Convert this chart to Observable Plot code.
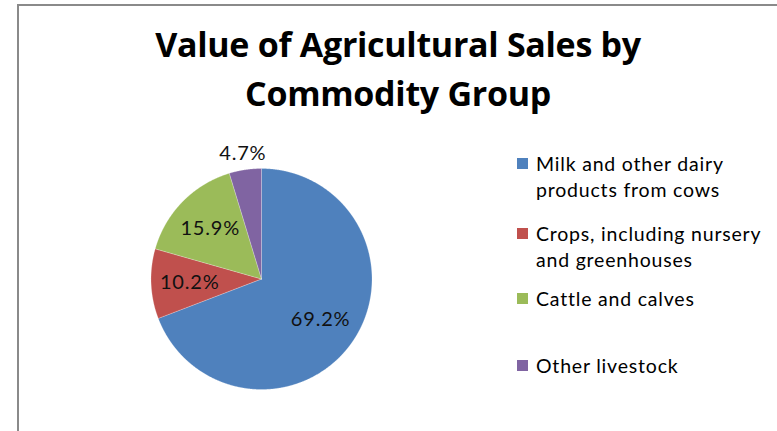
<!DOCTYPE html>
<html>
<head>
<meta charset="utf-8">
<script src="https://cdn.jsdelivr.net/npm/d3@7"></script>
<script src="https://cdn.jsdelivr.net/npm/@observablehq/plot@0.6"></script>
<style>
  html, body { margin: 0; padding: 0; background: #fff; }
  body { width: 777px; height: 431px; overflow: hidden; position: relative; font-family: Lato, "Open Sans", sans-serif; }
  #frame { position: absolute; left: 17px; top: 4px; width: 800px; height: 500px; border-left: 2px solid #8a8a8a; border-top: 2px solid #8a8a8a; pointer-events: none; z-index: 5; }
  #title { height: 140px; box-sizing: border-box; padding-top: 20px; padding-left: 19px; text-align: center; font-family: "Open Sans", sans-serif; font-weight: bold; font-size: 34px; line-height: 49px; color: #000; letter-spacing: -0.3px; }
  #legend { position: absolute; left: 517px; top: 150px; font-size: 19.5px; letter-spacing: 0.8px; color: #000; }
  .item { position: absolute; left: 0; white-space: nowrap; }
  .sw { position: absolute; left: 0; width: 11px; height: 11px; }
  .txt { position: absolute; left: 19px; line-height: 26px; }
  #chart svg { display: block; background: transparent; }
</style>
</head>
<body>
<div id="frame"></div>
<div id="title">Value of Agricultural Sales by<br>Commodity Group</div>
<div id="chart"></div>
<div id="legend"></div>
<script>
const categories = ["Milk and other dairy products from cows", "Crops, including nursery and greenhouses", "Cattle and calves", "Other livestock"];
const shares = [69.2, 10.2, 15.9, 4.7];
const pctLabels = ["69.2%", "10.2%", "15.9%", "4.7%"];
const legendLines = [["Milk and other dairy", "products from cows"], ["Crops, including nursery", "and greenhouses"], ["Cattle and calves"], ["Other livestock"]];
const colors = ["#4F81BD", "#C0504D", "#9BBB59", "#8064A2"];

// pie geometry from the data via d3.pie (clockwise from 12 o'clock)
const arcs = d3.pie().sort(null).value(d => d)(shares);
const rows = [];
arcs.forEach((a, i) => {
  const key = categories[i];
  rows.push({key, x: 0, y: 0});
  const n = Math.max(2, Math.ceil((a.endAngle - a.startAngle) / (Math.PI / 720)));
  for (let k = 0; k <= n; k++) {
    const t = a.startAngle + (a.endAngle - a.startAngle) * k / n;
    rows.push({key, x: Math.sin(t), y: Math.cos(t)});
  }
  rows.push({key, x: 0, y: 0});
});
const labelRows = arcs.map((a, i) => {
  const m = (a.startAngle + a.endAngle) / 2;
  const r = shares[i] < 5 ? 1.15 : 0.65;
  return {key: categories[i], text: pctLabels[i], x: Math.sin(m) * r, y: Math.cos(m) * r};
});

const cx = 261, cy = 138.5, R = 110.5;
const plot = Plot.plot({
  width: 777,
  height: 291,
  style: {background: "transparent", overflow: "visible"},
  x: {domain: [-1, 1], range: [cx - R, cx + R], axis: null},
  y: {domain: [-1, 1], range: [cy + R, cy - R], axis: null},
  color: {domain: categories, range: colors},
  marks: [
    Plot.line(rows, {x: "x", y: "y", z: "key", fill: "key", stroke: "#ffffff", strokeWidth: 0.4, strokeOpacity: 0.6, curve: "linear"}),
    Plot.text(labelRows, {x: "x", y: "y", text: "text", fill: "#111", fontSize: 20, fontFamily: "Lato, sans-serif"})
  ]
});
plot.querySelectorAll("text").forEach(t => t.setAttribute("letter-spacing", "0.8"));
document.getElementById("chart").appendChild(plot);

// legend
const tops = [8, 78, 143, 210];
const legend = d3.select("#legend");
categories.forEach((c, i) => {
  const it = legend.append("div").attr("class", "item").style("top", tops[i] + "px");
  it.append("div").attr("class", "sw").style("background", colors[i]).style("top", "0px");
  it.append("div").attr("class", "txt").style("top", "-7.5px").html(legendLines[i].join("<br>"));
});
</script>
</body>
</html>
